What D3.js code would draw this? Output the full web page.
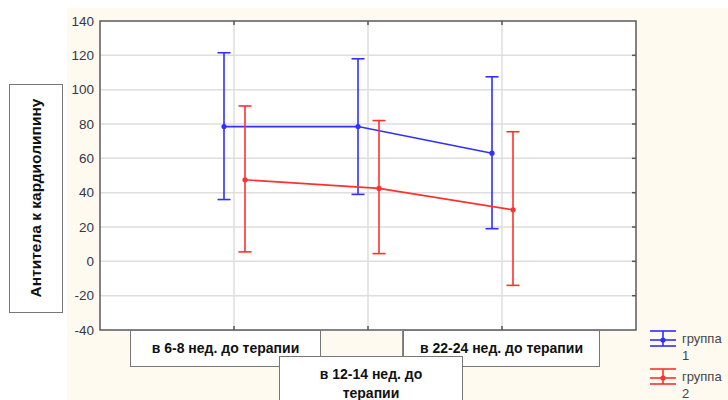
<!DOCTYPE html>
<html>
<head>
<meta charset="utf-8">
<script src="https://cdn.jsdelivr.net/npm/d3@7"></script>
<style>
  body { margin: 0; background: #fff; }
  text { font-family: "Liberation Sans", Arial, sans-serif; }
</style>
</head>
<body>
<div id="chart"></div>
<script>
// periods and groups
var periods = ["в 6-8 нед. до терапии", "в 12-14 нед. до терапии", "в 22-24 нед. до терапии"];
var groups = ["группа 1", "группа 2"];
var colors = ["#2f2fff", "#ff3030"];

// means and error limits
var means1 = [78.5, 78.5, 63];
var upper1 = [121.5, 118, 107.5];
var lower1 = [36, 39, 19];
var means2 = [47.5, 42.5, 30];
var upper2 = [90.5, 82, 75.5];
var lower2 = [5.5, 4.5, -14];

var yTicks = [-40, -20, 0, 20, 40, 60, 80, 100, 120, 140];
var yLabel = "Антитела к кардиолипину";

var width = 728, height = 400;
var plot = {left: 100, top: 21, right: 636, bottom: 330};

var svg = d3.select("#chart").append("svg")
    .attr("width", width)
    .attr("height", height);

// cream background of the graph window
svg.append("rect")
    .attr("x", 67).attr("y", 8)
    .attr("width", width - 67).attr("height", height - 8)
    .attr("fill", "#fffaf0");

var x = d3.scaleLinear().domain([0, 4]).range([plot.left, plot.right]);
var y = d3.scaleLinear().domain([-40, 140]).range([plot.bottom, plot.top]);

svg.append("rect")
    .attr("x", plot.left).attr("y", plot.top)
    .attr("width", plot.right - plot.left).attr("height", plot.bottom - plot.top)
    .attr("fill", "#fff");

// grid
svg.append("g").selectAll("line")
    .data(yTicks.slice(1, -1))
    .join("line")
    .attr("x1", plot.left).attr("x2", plot.right)
    .attr("y1", d => y(d)).attr("y2", d => y(d))
    .attr("stroke", "#dedede").attr("stroke-width", 1.5);

svg.append("g").selectAll("line")
    .data([1, 2, 3])
    .join("line")
    .attr("x1", d => x(d)).attr("x2", d => x(d))
    .attr("y1", plot.top).attr("y2", plot.bottom)
    .attr("stroke", "#dedede").attr("stroke-width", 1.5);

// left axis labels (plain hyphen for negatives)
var yAxis = d3.axisLeft(y).tickValues(yTicks).tickSize(0).tickPadding(6)
    .tickFormat(d => String(d));
var ya = svg.append("g")
    .attr("transform", "translate(" + plot.left + ",0)")
    .call(yAxis);
ya.select(".domain").remove();
ya.selectAll("text")
    .attr("font-size", 13.5)
    .attr("font-family", "Liberation Sans, Arial, sans-serif")
    .attr("fill", "#363646");

// small ticks on the frame
svg.append("g").selectAll("line")
    .data(yTicks.slice(1, -1))
    .join("line")
    .attr("x1", plot.right - 4).attr("x2", plot.right)
    .attr("y1", d => y(d)).attr("y2", d => y(d))
    .attr("stroke", "#555").attr("stroke-width", 1.5);
svg.append("g").selectAll("line")
    .data([1, 2, 3])
    .join("line")
    .attr("x1", d => x(d)).attr("x2", d => x(d))
    .attr("y1", plot.top).attr("y2", plot.top + 4)
    .attr("stroke", "#555").attr("stroke-width", 1.5);
svg.append("g").selectAll("line")
    .data([1, 2, 3])
    .join("line")
    .attr("x1", d => x(d)).attr("x2", d => x(d))
    .attr("y1", plot.bottom - 4).attr("y2", plot.bottom)
    .attr("stroke", "#555").attr("stroke-width", 1.5);

// frame
svg.append("rect")
    .attr("x", plot.left).attr("y", plot.top)
    .attr("width", plot.right - plot.left).attr("height", plot.bottom - plot.top)
    .attr("fill", "none").attr("stroke", "#5a5a5a").attr("stroke-width", 1.5);

// series
var series = [
  {means: means1, upper: upper1, lower: lower1, color: colors[0], dx: -10},
  {means: means2, upper: upper2, lower: lower2, color: colors[1], dx: 11}
];

series.forEach(function(s) {
  var g = svg.append("g");
  var pts = s.means.map((m, i) => [x(i + 1) + s.dx, y(m)]);
  g.append("path")
      .attr("d", d3.line()(pts))
      .attr("fill", "none").attr("stroke", s.color).attr("stroke-width", 1.6);
  s.means.forEach(function(m, i) {
    var cx = x(i + 1) + s.dx;
    g.append("line")
        .attr("x1", cx).attr("x2", cx)
        .attr("y1", y(s.upper[i])).attr("y2", y(s.lower[i]))
        .attr("stroke", s.color).attr("stroke-width", 1.6);
    [s.upper[i], s.lower[i]].forEach(function(v) {
      g.append("line")
          .attr("x1", cx - 6.5).attr("x2", cx + 6.5)
          .attr("y1", y(v)).attr("y2", y(v))
          .attr("stroke", s.color).attr("stroke-width", 1.6);
    });
    g.append("circle")
        .attr("cx", cx).attr("cy", y(m)).attr("r", 2.6)
        .attr("fill", s.color);
  });
});

// y label box
svg.append("rect")
    .attr("x", 9.5).attr("y", 84.5).attr("width", 53).attr("height", 228)
    .attr("fill", "#fff").attr("stroke", "#777").attr("stroke-width", 1);
svg.append("text")
    .attr("transform", "translate(40.5,198) rotate(-90)")
    .attr("text-anchor", "middle")
    .attr("font-size", 15.5).attr("font-weight", "bold")
    .attr("fill", "#111")
    .text(yLabel);

// category label boxes
svg.append("rect")
    .attr("x", 320.5).attr("y", 330.5).attr("width", 82).attr("height", 26)
    .attr("fill", "#fffaf0").attr("stroke", "#888").attr("stroke-width", 1);

var boxes = [
  {x: 130.5, y: 330.5, w: 190, h: 36, lines: [periods[0]]},
  {x: 403.5, y: 330.5, w: 196, h: 36, lines: [periods[2]]},
  {x: 279.5, y: 356.5, w: 183, h: 50, lines: ["в 12-14 нед. до", "терапии"]}
];
boxes.forEach(function(b) {
  svg.append("rect")
      .attr("x", b.x).attr("y", b.y).attr("width", b.w).attr("height", b.h)
      .attr("fill", "#fff").attr("stroke", "#777").attr("stroke-width", 1);
  b.lines.forEach(function(t, i) {
    svg.append("text")
        .attr("x", b.x + b.w / 2)
        .attr("y", b.y + 22 + i * 19)
        .attr("text-anchor", "middle")
        .attr("font-size", 14).attr("font-weight", "bold")
        .attr("fill", "#111")
        .text(t);
  });
});

// legend
var legendY = [340, 378];
groups.forEach(function(name, i) {
  var lg = svg.append("g").attr("transform", "translate(663," + legendY[i] + ")");
  var c = colors[i];
  [-9, 0, 6].forEach(function(dy) {
    lg.append("line").attr("x1", -13).attr("x2", 13).attr("y1", dy).attr("y2", dy)
        .attr("stroke", c).attr("stroke-width", 1.6);
  });
  lg.append("line").attr("x1", 0).attr("x2", 0).attr("y1", -9).attr("y2", 6)
      .attr("stroke", c).attr("stroke-width", 1.6);
  lg.append("circle").attr("r", 2.6).attr("fill", c);
  var parts = name.split(" ");
  lg.append("text").attr("x", 19).attr("y", 3)
      .attr("font-size", 13).attr("fill", "#444").text(parts[0]);
  lg.append("text").attr("x", 19).attr("y", 20)
      .attr("font-size", 13).attr("fill", "#444").text(parts[1]);
});
</script>
</body>
</html>
